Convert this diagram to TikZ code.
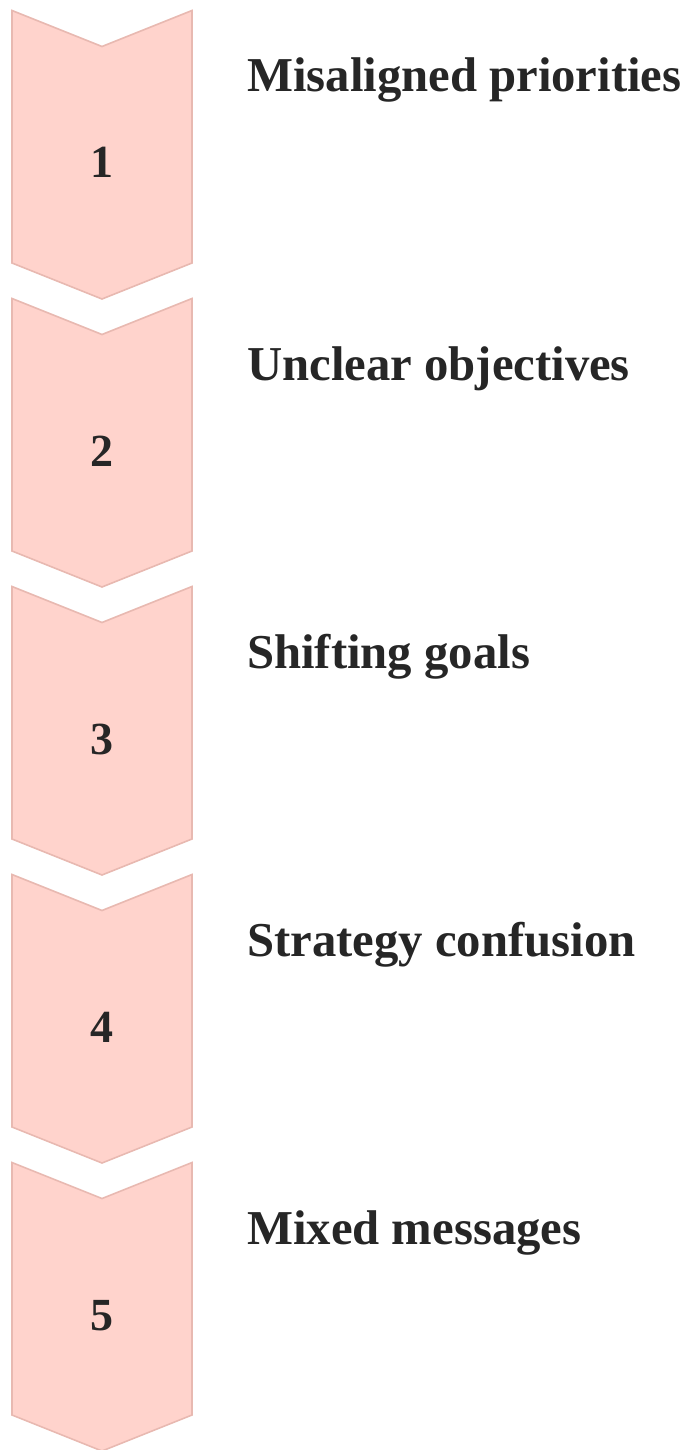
\documentclass[tikz,border=0pt]{standalone}
\usepackage{fontspec}
\setmainfont{Liberation Serif}
\definecolor{chevfill}{HTML}{FFD3CC}
\definecolor{chevline}{HTML}{E8B9B1}
\definecolor{ink}{HTML}{262626}
\begin{document}
\begin{tikzpicture}[x=1pt,y=-1pt,
  chevron/.style={fill=chevfill,draw=chevline,line width=1.6pt,line join=miter},
  numlabel/.style={anchor=base,text=ink,inner sep=0pt,font=\fontsize{46}{46}\selectfont\bfseries},
  steplabel/.style={anchor=base west,text=ink,inner sep=0pt,font=\fontsize{48.7}{50}\selectfont\bfseries}]
  \useasboundingbox (0,0) rectangle (690,1450);
  \foreach \i/\txt [count=\k from 0] in {1/Misaligned priorities,2/Unclear objectives,3/Shifting goals,4/Strategy confusion,5/Mixed messages}{
    \begin{scope}[yshift={-288*\k pt}]
      % downward chevron
      \draw[chevron] (12,10.5) -- (102,46.5) -- (192,10.5) -- (192,263) -- (102,299) -- (12,263) -- cycle;
      \node[numlabel] (n\i) at (102,178) {\i};
      \node[steplabel] (t\i) at (247,92) {\txt};
    \end{scope}
  }
\end{tikzpicture}
\end{document}
